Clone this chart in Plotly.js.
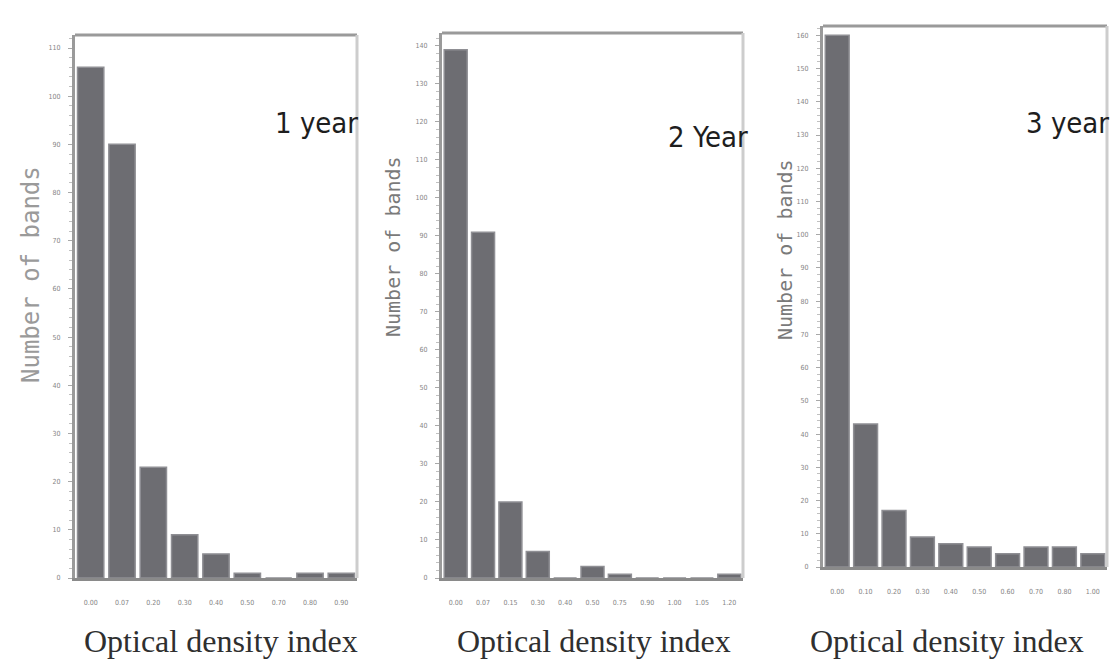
<!DOCTYPE html>
<html>
<head>
<meta charset="utf-8">
<script src="https://cdn.plot.ly/plotly-3.0.1.min.js"></script>
<style>
  html, body { margin: 0; padding: 0; background: #ffffff; }
  #chart { width: 1113px; height: 663px; }
</style>
</head>
<body>
<div id="chart"></div>
<script>
// Optical density index bins and band counts for each follow-up year
const year1Bins = ["0.00", "0.07", "0.20", "0.30", "0.40", "0.50", "0.70", "0.80", "0.90"];
const year1Counts = [106, 90, 23, 9, 5, 1, 0, 1, 1];

const year2Bins = ["0.00", "0.07", "0.15", "0.30", "0.40", "0.50", "0.75", "0.90", "1.00", "1.05", "1.20"];
const year2Counts = [139, 91, 20, 7, 0, 3, 1, 0, 0, 0, 1];

const year3Bins = ["0.00", "0.10", "0.20", "0.30", "0.40", "0.50", "0.60", "0.70", "0.80", "1.00"];
const year3Counts = [160, 43, 17, 9, 7, 6, 4, 6, 6, 4];

const panelNames = ["1 year", "2 Year", "3 year"];
const xTitle = "Optical density index";
const yTitle = "Number of bands";

const W = 1113, H = 663;
const px = v => v / W;
const py = v => 1 - v / H;

const barFill = "#6d6d72";
const barEdge = "#8f8f94";

function barTrace(bins, counts, n) {
  return {
    type: "bar",
    x: bins,
    y: counts,
    xaxis: n === 1 ? "x" : "x" + n,
    yaxis: n === 1 ? "y" : "y" + n,
    marker: { color: barFill, line: { color: barEdge, width: 1.5 } },
    hoverinfo: "x+y",
    showlegend: false
  };
}

const data = [
  barTrace(year1Bins, year1Counts, 1),
  barTrace(year2Bins, year2Counts, 2),
  barTrace(year3Bins, year3Counts, 3)
];

const tickFont = { family: "DejaVu Sans Condensed, DejaVu Sans, sans-serif", size: 7, color: "#858585" };

function xAxis(domain, anchor) {
  return {
    domain: domain,
    anchor: anchor,
    type: "category",
    showline: true,
    linecolor: "#8a8a8a",
    linewidth: 3,
    ticks: "",
    showgrid: false,
    zeroline: false,
    fixedrange: true,
    ticklabelstandoff: 16,
    tickfont: tickFont
  };
}

function yAxis(domain, anchor, top) {
  return {
    domain: domain,
    anchor: anchor,
    range: [0, top],
    dtick: 10,
    tick0: 0,
    showline: true,
    linecolor: "#9a9a9a",
    linewidth: 3,
    ticks: "outside",
    ticklen: 4,
    tickwidth: 1,
    tickcolor: "#a8a8a8",
    minor: { dtick: 2, ticks: "outside", ticklen: 3, tickcolor: "#c0c0c0", tickwidth: 1 },
    showgrid: false,
    zeroline: false,
    fixedrange: true,
    ticklabelstandoff: 6,
    tickfont: tickFont
  };
}

// Plot frames: darker top edge, lighter right edge
function frame(n) {
  const xr = (n === 1 ? "x" : "x" + n) + " domain";
  const yr = (n === 1 ? "y" : "y" + n) + " domain";
  return [
    { type: "line", xref: xr, yref: yr, x0: 0, x1: 1, y0: 1, y1: 1, line: { color: "#9a9a9a", width: 3 } },
    { type: "line", xref: xr, yref: yr, x0: 1, x1: 1, y0: 0, y1: 1, line: { color: "#cdcdcd", width: 3 } }
  ];
}

const yearFont = { family: "Liberation Sans Narrow, DejaVu Sans Condensed, sans-serif", size: 29, color: "#1e1e1e" };
const xTitleFont = { family: "Liberation Serif, serif", size: 32, color: "#2f2f2f" };
const yTitleFont = { family: "DejaVu Sans Mono, monospace", size: 20, color: "#7a7a7a" };

function note(text, x, y, font, angle) {
  return {
    text: text, xref: "paper", yref: "paper", x: px(x), y: py(y),
    xanchor: "center", yanchor: "middle", textangle: angle || 0,
    showarrow: false, font: font
  };
}

const annotations = [
  note(panelNames[0], 316, 123, yearFont),
  note(panelNames[1], 708, 137, yearFont),
  note(panelNames[2], 1067, 123, yearFont),

  note(xTitle, 221, 641, xTitleFont),
  note(xTitle, 594, 641, xTitleFont),
  note(xTitle, 947, 641, xTitleFont),

  note(yTitle, 31, 275, Object.assign({}, yTitleFont, { size: 24, color: "#9a9a9a" }), -90),
  note(yTitle, 393, 247, yTitleFont, -90),
  note(yTitle, 785, 250, yTitleFont, -90)
];

const layout = {
  width: W,
  height: H,
  margin: { l: 0, r: 0, t: 0, b: 0 },
  paper_bgcolor: "#ffffff",
  plot_bgcolor: "#ffffff",
  bargap: 0.16,
  showlegend: false,
  xaxis:  xAxis([px(75), px(357)], "y"),
  yaxis:  yAxis([1 - 578 / H, 1 - 35 / H], "x", 112.7),
  xaxis2: xAxis([px(442), px(743)], "y2"),
  yaxis2: yAxis([1 - 578 / H, 1 - 33 / H], "x2", 143.4),
  xaxis3: xAxis([px(823), px(1107)], "y3"),
  yaxis3: yAxis([1 - 567 / H, 1 - 26 / H], "x3", 162.8),
  shapes: [].concat(frame(1), frame(2), frame(3)),
  annotations: annotations
};

Plotly.newPlot("chart", data, layout, { displayModeBar: false, staticPlot: true });
</script>
</body>
</html>
